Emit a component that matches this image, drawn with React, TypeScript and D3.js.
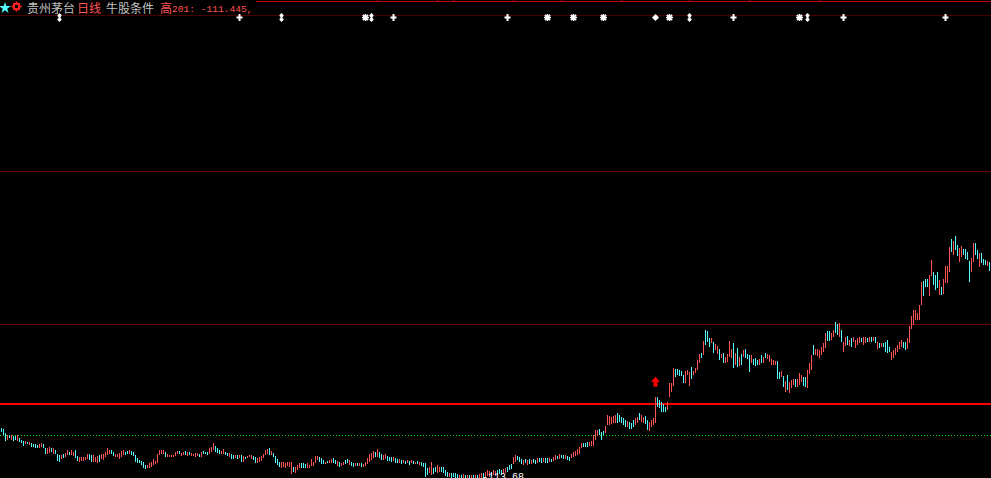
import React from 'react';
import * as d3 from 'd3';

const W = 991;
const H = 478;

// daily bars, left to right: highs / lows (indicator units)
const highs: number[] = [
  // first stretch
  -112.17,-112.21,-112.33,-112.38,-112.38,-112.38,-112.41,-112.41,-112.38,-112.48,
  -112.51,-112.55,-112.57,-112.58,-112.60,-112.63,-112.65,-112.66,-112.68,-112.66,
  -112.61,-112.65,-112.78,-112.76,-112.73,-112.78,-112.76,-112.83,-112.93,-112.98,
  -112.98,-112.95,-112.91,-112.83,-112.88,-112.83,-112.88,-112.83,-113.01,-113.03,
  -113.05,-113.05,-113.03,-112.95,-112.93,-112.98,-112.98,-113.03,-113.01,-112.98,
  -112.93,-112.96,-112.88,-112.78,-112.83,-112.83,-112.88,-112.93,-112.95,-112.91,
  -112.85,-112.83,-112.88,-112.85,-112.83,-112.85,-112.88,-112.98,-113.08,-113.13,
  -113.16,-113.18,-113.28,-113.28,-113.23,-113.18,-113.11,-113.16,-112.93,-112.83,
  -112.83,-112.83,-112.88,-112.93,-112.98,-112.98,-112.98,-112.88,-112.85,-112.85,
  -112.91,-112.88,-112.85,-112.88,-112.88,-112.91,-112.93,-112.91,-112.91,-112.93,
  -112.88,-112.85,-112.88,-112.88,-112.78,-112.73,-112.63,-112.71,-112.78,-112.83,
  -112.85,-112.81,-112.88,-112.91,-112.91,-112.95,-112.98,-112.98,-112.98,-112.98,
  -112.98,-113.01,-113.03,-113.01,-112.98,-112.98,-113.01,-113.05,-113.08,-113.05,
  -113.01,-112.95,-112.83,-112.81,-112.76,-112.85,-112.91,-113.01,-113.11,-113.18,
  -113.18,-113.18,-113.23,-113.18,-113.18,-113.18,-113.33,-113.33,-113.28,-113.23,
  -113.23,-113.23,-113.25,-113.23,-113.28,-113.11,-113.18,-113.01,-113.01,-113.03,
  -113.08,-113.13,-113.18,-113.15,-113.13,
  // bottoming out
  -113.10,-113.08,-113.13,-113.15,-113.18,-113.21,-113.18,-113.13,-113.10,-113.13,
  -113.18,-113.21,-113.21,-113.23,-113.21,-113.23,-113.25,-113.18,-113.08,-112.95,
  -112.91,-112.85,-112.88,-112.81,-112.88,-112.95,-112.98,-112.96,-113.01,-113.03,
  -113.05,-113.03,-113.08,-113.11,-113.11,-113.13,-113.13,-113.15,-113.13,-113.15,
  -113.13,-113.15,-113.18,-113.16,-113.18,-113.18,-113.21,-113.23,-113.38,-113.33,
  -113.18,-113.38,-113.33,-113.28,-113.33,-113.33,-113.35,-113.43,-113.48,-113.51,
  -113.53,-113.51,-113.53,-113.55,-113.58,-113.58,-113.56,-113.58,-113.57,-113.59,
  -113.58,-113.59,-113.58,-113.59,-113.56,-113.53,-113.51,-113.48,-113.43,-113.45,
  -113.48,-113.43,-113.45,-113.43,-113.41,-113.43,-113.41,-113.38,-113.33,-113.28,
  -113.25,-113.03,-112.98,-113.01,-113.05,-113.11,-113.13,-113.11,-113.13,-113.11,
  -113.13,-113.11,-113.13,-113.08,-113.06,-113.08,-113.06,-113.08,-113.08,-113.08,
  -113.10,-113.05,-112.98,-113.00,-112.96,-112.98,-112.98,-112.99,-113.00,-113.03,
  -112.93,-112.88,-112.85,-112.81,-112.75,-112.63,-112.61,-112.63,-112.58,-112.58,
  -112.56,-112.38,-112.23,-112.23,-112.18,-112.28,-112.25,-112.11,-111.78,-111.81,
  -111.83,-111.81,-111.78,-111.73,-111.78,-111.83,-111.88,-111.93,-111.95,-111.98,
  -112.01,-111.93,-111.88,-111.83,-111.71,-111.78,-111.83,-111.81,-111.93,-111.98,
  -111.93,-111.88,-111.23,-111.25,-111.33,
  // after the breakout
  -111.38,-111.43,-111.53,-111.38,-110.83,-110.81,-110.38,-110.41,-110.41,-110.43,
  -110.45,-110.58,-110.45,-110.43,-110.48,-110.35,-110.45,-110.38,-110.13,-109.93,
  -109.91,-109.55,-109.23,-109.25,-109.48,-109.48,-109.58,-109.66,-109.71,-109.81,
  -109.93,-109.91,-110.05,-109.93,-109.56,-109.81,-109.63,-109.91,-109.78,-110.03,
  -109.96,-109.83,-109.81,-109.93,-109.98,-109.98,-110.11,-110.08,-110.13,-110.11,
  -109.98,-110.03,-109.91,-109.93,-109.98,-110.11,-110.13,-110.15,-110.15,-110.48,
  -110.46,-110.61,-110.75,-110.58,-110.78,-110.73,-110.68,-110.68,-110.71,-110.53,
  -110.58,-110.63,-110.63,-110.43,-110.23,-109.98,-109.68,-109.81,-109.81,-109.83,
  -109.73,-109.63,-109.31,-109.25,-109.25,-109.33,-109.23,-108.98,-109.05,-109.03,
  -109.23,-109.58,-109.43,-109.41,-109.51,-109.48,-109.45,-109.51,-109.48,-109.45,
  -109.48,-109.43,-109.45,-109.48,-109.43,-109.45,-109.43,-109.45,-109.58,-109.63,
  -109.61,-109.61,-109.58,-109.53,-109.75,-109.88,-109.83,-109.78,-109.68,-109.58,
  -109.53,-109.58,-109.58,-109.48,-109.11,
  // last leg up
  -108.81,-108.63,-108.63,-108.72,-108.48,-107.79,-107.76,-107.70,-107.70,-107.58,
  -107.13,-107.49,-107.58,-107.49,-107.73,-107.94,-107.70,-107.31,-107.31,-106.74,
  -106.50,-106.56,-106.41,-106.68,-106.77,-106.71,-106.80,-106.80,-106.89,-107.16,
  -107.07,-106.62,-106.62,-106.83,-106.92,-106.92,-107.10,-107.13,-107.16,-107.19,
];

const lows: number[] = [
  -112.28,-112.38,-112.55,-112.51,-112.48,-112.53,-112.55,-112.53,-112.55,-112.58,
  -112.63,-112.70,-112.66,-112.66,-112.68,-112.73,-112.75,-112.76,-112.78,-112.76,
  -112.73,-112.78,-112.96,-112.93,-112.91,-112.88,-112.93,-112.96,-113.15,-113.18,
  -113.11,-113.08,-113.05,-112.98,-112.98,-112.98,-113.01,-113.08,-113.15,-113.18,
  -113.15,-113.15,-113.13,-113.11,-113.13,-113.18,-113.18,-113.18,-113.21,-113.18,
  -113.11,-113.13,-113.05,-112.98,-112.95,-112.93,-113.01,-113.05,-113.05,-113.11,
  -113.03,-112.98,-112.98,-112.93,-112.95,-112.98,-113.01,-113.18,-113.21,-113.23,
  -113.28,-113.38,-113.40,-113.38,-113.38,-113.33,-113.28,-113.25,-113.23,-112.98,
  -112.95,-112.93,-113.03,-113.03,-113.05,-113.05,-113.05,-113.01,-112.95,-112.95,
  -113.01,-112.98,-112.98,-113.01,-112.98,-113.01,-113.01,-113.03,-113.01,-113.05,
  -113.03,-112.95,-112.95,-112.98,-112.93,-112.88,-112.83,-112.88,-112.91,-112.95,
  -112.95,-112.93,-112.98,-113.01,-113.03,-113.11,-113.11,-113.08,-113.11,-113.08,
  -113.18,-113.18,-113.11,-113.08,-113.05,-113.11,-113.13,-113.21,-113.21,-113.18,
  -113.15,-113.08,-112.98,-112.95,-112.98,-112.98,-113.05,-113.21,-113.28,-113.33,
  -113.36,-113.33,-113.38,-113.31,-113.33,-113.55,-113.48,-113.51,-113.43,-113.38,
  -113.38,-113.38,-113.38,-113.38,-113.38,-113.31,-113.31,-113.21,-113.13,-113.18,
  -113.25,-113.25,-113.25,-113.23,-113.21,
  -113.23,-113.21,-113.25,-113.31,-113.33,-113.31,-113.28,-113.25,-113.23,-113.28,
  -113.31,-113.33,-113.31,-113.31,-113.31,-113.33,-113.33,-113.31,-113.25,-113.18,
  -113.13,-113.08,-113.03,-113.03,-113.08,-113.13,-113.13,-113.11,-113.15,-113.15,
  -113.18,-113.15,-113.23,-113.23,-113.23,-113.25,-113.23,-113.25,-113.23,-113.28,
  -113.23,-113.25,-113.25,-113.25,-113.28,-113.31,-113.33,-113.63,-113.58,-113.53,
  -113.58,-113.55,-113.48,-113.51,-113.48,-113.48,-113.53,-113.61,-113.63,-113.63,
  -113.65,-113.63,-113.65,-113.67,-113.67,-113.67,-113.67,-113.67,-113.67,-113.67,
  -113.67,-113.67,-113.67,-113.68,-113.67,-113.67,-113.65,-113.63,-113.61,-113.63,
  -113.61,-113.58,-113.61,-113.58,-113.55,-113.58,-113.55,-113.53,-113.48,-113.43,
  -113.41,-113.25,-113.18,-113.13,-113.18,-113.25,-113.28,-113.23,-113.28,-113.25,
  -113.25,-113.23,-113.25,-113.23,-113.18,-113.21,-113.18,-113.21,-113.21,-113.18,
  -113.18,-113.15,-113.13,-113.11,-113.10,-113.08,-113.11,-113.11,-113.13,-113.15,
  -113.08,-113.03,-113.01,-112.98,-112.93,-112.78,-112.75,-112.75,-112.73,-112.71,
  -112.71,-112.71,-112.53,-112.41,-112.38,-112.53,-112.38,-112.33,-112.08,-112.08,
  -112.06,-112.03,-112.01,-112.03,-111.98,-112.03,-112.08,-112.13,-112.13,-112.18,
  -112.18,-112.13,-112.08,-112.03,-111.93,-111.98,-112.01,-112.05,-112.23,-112.25,
  -112.13,-112.08,-112.03,-111.53,-111.56,
  -111.68,-111.68,-111.68,-111.63,-111.25,-111.08,-110.91,-110.63,-110.58,-110.61,
  -110.61,-110.81,-110.83,-110.58,-110.91,-110.68,-110.58,-110.53,-110.43,-110.23,
  -110.08,-109.98,-109.68,-109.58,-109.75,-109.63,-109.91,-109.83,-109.93,-110.13,
  -110.08,-110.23,-110.21,-110.18,-110.03,-110.06,-110.38,-110.28,-110.35,-110.31,
  -110.28,-110.03,-110.08,-110.11,-110.48,-110.23,-110.28,-110.31,-110.28,-110.28,
  -110.23,-110.21,-110.08,-110.11,-110.18,-110.28,-110.28,-110.28,-110.68,-110.71,
  -110.63,-110.93,-111.08,-111.01,-111.11,-110.98,-110.88,-110.93,-110.93,-110.88,
  -110.78,-110.91,-110.93,-110.98,-110.56,-110.43,-109.98,-109.98,-110.01,-110.08,
  -109.98,-109.88,-109.78,-109.55,-109.56,-109.51,-109.43,-109.31,-109.38,-109.43,
  -109.58,-109.88,-109.71,-109.68,-109.71,-109.75,-109.58,-109.78,-109.68,-109.63,
  -109.58,-109.68,-109.63,-109.60,-109.58,-109.58,-109.56,-109.63,-109.81,-109.78,
  -109.75,-109.73,-109.88,-109.91,-109.88,-110.13,-110.08,-109.98,-109.88,-109.81,
  -109.73,-109.78,-109.83,-109.81,-109.63,
  -109.20,-109.08,-108.93,-108.93,-108.93,-108.48,-108.21,-107.94,-107.94,-108.21,
  -107.61,-107.88,-108.03,-107.97,-108.18,-108.18,-108.15,-107.82,-107.82,-107.49,
  -106.89,-106.98,-106.83,-107.01,-107.19,-107.04,-106.98,-107.10,-107.13,-107.79,
  -107.49,-107.19,-106.98,-107.10,-107.34,-107.22,-107.28,-107.28,-107.31,-107.46,
];

// r = closed up (red), c = closed down (cyan)
const upDown = (
  'cccrcrccrc' + 'ccrcrccccr' + 'rccrrcrccc' + 'rcrrcrrccr' + 'rrrrccrrrc' + 'rrrrrccrrr' +
  'rrccrccccc' + 'cccrrrrrrr' + 'rrcrrrrrrc' + 'rrcrcrrrrc' + 'rcccrrrccc' + 'rrccrccrcr' +
  'crcrrrccrr' + 'rrrrcrcccc' + 'rrrrrrcrrr' + 'cccrrrrrrc' + 'ccrcr' +
  'rccrcrrccr' + 'ccrcrcrrrr' + 'rrcrccrrcc' + 'crccrcrcrc' + 'rcrcrccccr' + 'rccrrccccr' +
  'ccccrcrcrc' + 'rcrcrrcrrr' + 'crrcccrrcc' + 'crrcccrcrc' + 'rccrccrccr' + 'crrcrccrcc' +
  'rrrrrrcccr' + 'rrrrcccrrr' + 'rrrcccccrc' + 'ccrrcrrccr' + 'rrrcc' +
  'cccrrrrccc' + 'ccrrrcrrrr' + 'crcccrcrrc' + 'rcrrrrcrcr' + 'crcccrcccr' + 'crcrrrrrcc' +
  'rcrcrrrcrr' + 'rccrrrcrrr' + 'rrrccrrccr' + 'crrcrcrrrr' + 'crrcrcrcrc' + 'rccccrrrrr' + 'rccrr' +
  'rrrrrrcccr' + 'rcccrcrrrr' + 'crccrrcccc' + 'rrccrcccrc'
).split('');

// signal row under the title
const markerBars = [29, 119, 140, 182, 185, 196, 253, 273, 286, 301, 327, 334, 344, 366, 399, 403, 421, 472];
const markerKinds = ['dbl', 'plus', 'dbl', 'star', 'dbl', 'plus', 'plus', 'star', 'star', 'star', 'diamond', 'star', 'dbl', 'plus', 'star', 'dbl', 'plus', 'plus'];

const topTickBars = [188, 218, 226, 256, 280, 310, 344, 374, 409];
const gridLevels = [-99.775, -104.455, -109.045];
const breakLevel = -111.445;
const dotLevel = -112.375;

const UP = '#ff5454';
const DOWN = '#54fcfc';

const filledShapes: Record<string, string> = {
  plus: 'M-1,-3.5H1V-1H3V1H1V3.5H-1V1H-3V-1H-1Z',
  dbl: 'M0,-4.5L2,-2.5V-1.5L1,-0.5V0.5L2,1.5V2.5L0,4.5L-2,2.5V1.5L-1,0.5V-0.5L-2,-1.5V-2.5Z',
  diamond: 'M0,-3.5L3.5,0L0,3.5L-3.5,0Z',
};
const asterisk = 'M0,-3.5V3.5M-3.5,0H3.5M-2.6,-2.6L2.6,2.6M-2.6,2.6L2.6,-2.6';

const App: React.FC = () => {
  const n = highs.length;
  const x = d3.scaleLinear().domain([0, n - 1]).range([1, 989]);
  const y = d3.scaleLinear().domain([-113.665, -99.325]).range([H, 0]);

  const minIdx = d3.minIndex(lows);
  const breakIdx = highs.findIndex(h => h > breakLevel);
  const bx = x(breakIdx) + 0.5;
  const by = y(highs[breakIdx]) - 20;

  const star = d3.symbol().type(d3.symbolStar).size(42)();

  return (
    <div style={{ position: 'absolute', left: 0, top: 0, width: W, height: H, background: '#000' }}>
      <svg width={W} height={H} style={{ display: 'block' }}>
        <rect width={W} height={H} fill="#000" />

        {/* panel rules */}
        {gridLevels.map((v, i) => (
          <line key={i} x1={0} x2={W} y1={Math.round(y(v)) + 0.5} y2={Math.round(y(v)) + 0.5}
            stroke={i === 0 ? '#480000' : '#600000'} strokeWidth={1} />
        ))}
        <line x1={256} x2={W} y1={1.5} y2={1.5} stroke="#c80000" strokeWidth={1} />
        {topTickBars.map(b => (
          <rect key={b} x={Math.round(x(b))} y={0} width={1} height={1} fill="#c80000" />
        ))}

        {/* levels */}
        <line x1={0} x2={W} y1={Math.round(y(dotLevel)) + 0.5} y2={Math.round(y(dotLevel)) + 0.5}
          stroke="#00e000" strokeWidth={1} strokeDasharray="1,2" />
        <line x1={0} x2={W} y1={y(breakLevel)} y2={y(breakLevel)} stroke="#ff0000" strokeWidth={2} />

        {/* bars */}
        <g shapeRendering="crispEdges">
          {highs.map((h, i) => {
            const top = Math.round(y(h));
            const bot = Math.round(y(lows[i]));
            return (
              <rect key={i} x={Math.round(x(i))} y={top} width={1} height={Math.max(1, bot - top)}
                fill={upDown[i] === 'r' ? UP : DOWN} />
            );
          })}
        </g>

        {/* breakout arrow */}
        <path d={`M${bx},${by}L${bx + 4.5},${by + 5}H${bx + 2}V${by + 10}H${bx - 2}V${by + 5}H${bx - 4.5}Z`} fill="#ff0000" />

        {/* signal markers */}
        {markerBars.map((b, i) => {
          const k = markerKinds[i];
          const t = `translate(${Math.round(x(b)) + 0.5},17.5)`;
          return k === 'star'
            ? <path key={i} d={asterisk} transform={t} fill="none" stroke="#fff" strokeWidth={1.6} />
            : <path key={i} d={filledShapes[k]} transform={t} fill="#fff" />;
        })}

        {/* lowest-low label */}
        <text x={Math.round(x(minIdx)) + 5} y={y(lows[minIdx]) + 1} fill="#fff"
          fontFamily="Liberation Mono, DejaVu Sans Mono, monospace" fontSize={10}>
          {lows[minIdx].toFixed(2)}
        </text>

        {/* title */}
        <path d={star} transform="translate(5,8)" fill={DOWN} />
        <g fill="#ff2020">
          <rect x={13} y={3} width={7} height={7} />
          <rect x={15.5} y={1.5} width={2} height={10} />
          <rect x={11.5} y={5.5} width={10} height={2} />
        </g>
        <rect x={15} y={5} width={3} height={3} fill="#000" />
        <g fontFamily="'Noto Sans CJK SC', sans-serif" fontSize={12}>
          <text x={27} y={12.5} fill="#c0c0c0">贵州茅台</text>
          <text x={77} y={12.5} fill={UP}>日线</text>
          <text x={106} y={12.5} fill="#c0c0c0">牛股条件</text>
          <text x={160} y={12.5} fill={UP}>高</text>
        </g>
        <text x={172} y={12} fill={UP} fontFamily="Liberation Mono, DejaVu Sans Mono, monospace" fontSize={9.6}>
          201: {breakLevel.toFixed(3)},
        </text>
      </svg>
    </div>
  );
};

export default App;
